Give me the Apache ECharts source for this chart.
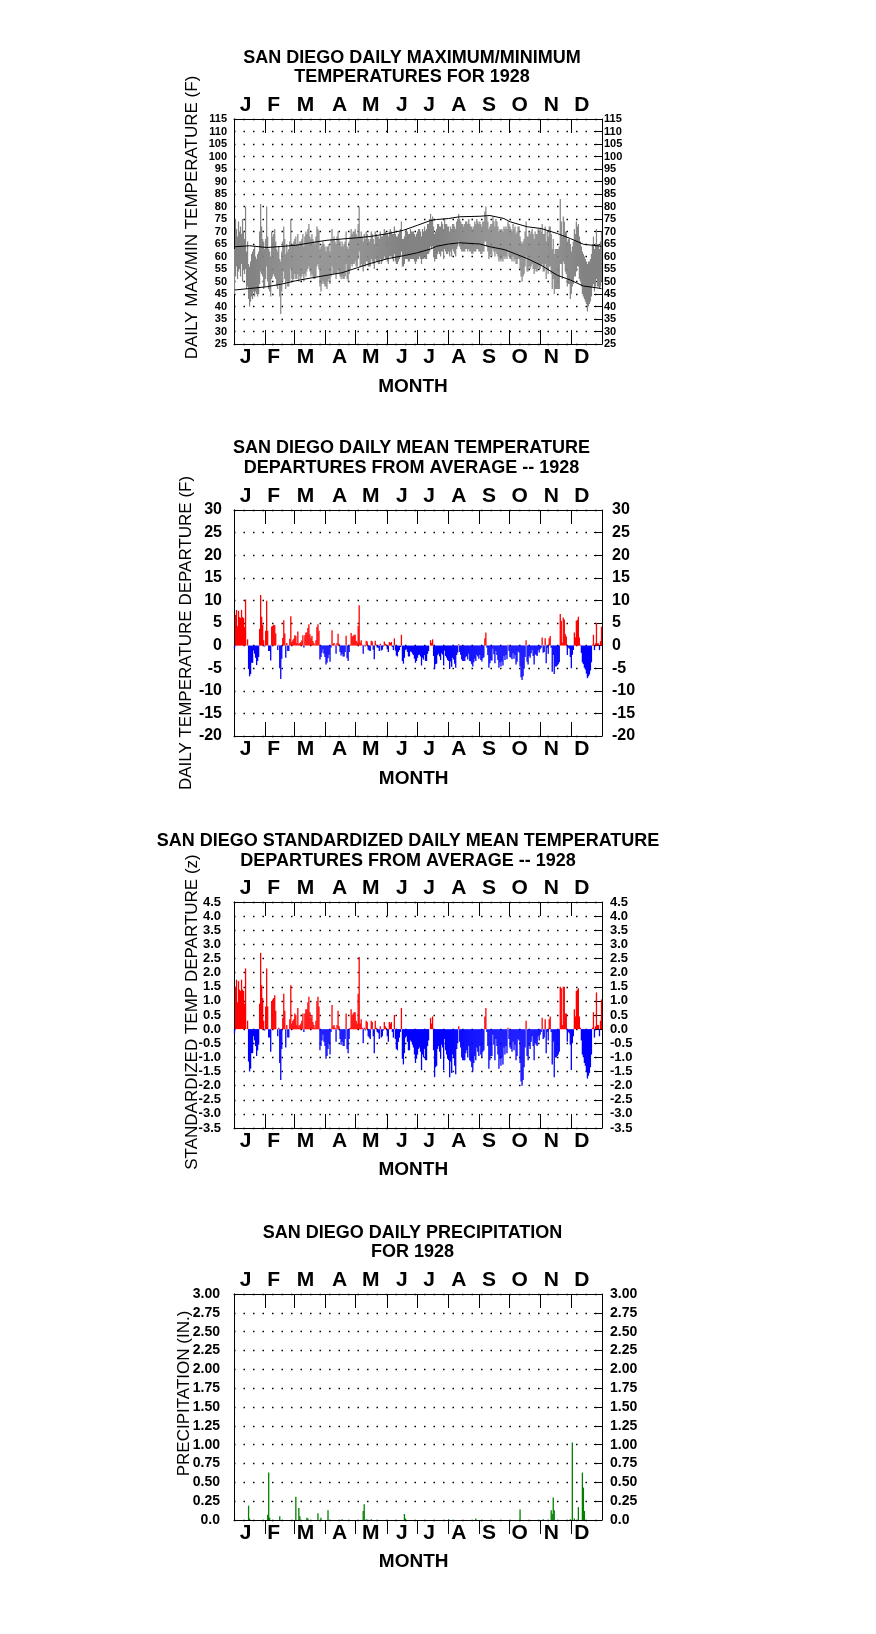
<!DOCTYPE html>
<html><head><meta charset="utf-8">
<script src="https://cdn.jsdelivr.net/npm/echarts@6/dist/echarts.min.js"></script>
<style>html,body{margin:0;padding:0;background:#fff}#c{width:876px;height:1634px}</style>
</head><body><div id="c"></div>
<script>
// ---------- DATA ----------
const monthLetters = ['J','F','M','A','M','J','J','A','S','O','N','D'];
const monthStarts = [31,60,91,121,152,182,213,244,274,305,335]; // day-of-year boundaries (1928, leap)

const tMax = [
63,75,71,68,74,70,72,69,75,70,67,80,62,66,57,56,58,61,62,63,64,60,59,61,62,70,81,72,67,66,63,
67,80,68,63,62,60,70,68,69,71,66,63,62,64,59,58,62,66,72,67,61,65,62,63,66,75,64,65,66,
67,68,65,69,65,66,66,67,69,64,68,70,69,71,73,68,67,69,67,66,65,68,72,71,70,63,64,65,66,65,64,
62,64,64,65,62,67,71,67,68,66,65,68,70,67,66,64,66,64,65,66,70,64,63,66,68,71,69,70,70,71,
69,68,73,80,68,70,68,66,69,67,70,69,67,66,67,70,69,67,65,70,69,68,68,67,70,68,68,69,71,70,69,
69,68,70,71,70,69,69,72,69,68,68,69,70,71,74,67,67,68,70,71,70,69,69,71,70,70,70,69,68,69,
70,71,71,70,68,71,70,72,70,71,73,73,75,77,75,76,72,69,70,71,73,73,72,72,74,73,71,75,73,73,72,
72,70,72,71,73,73,72,71,74,75,77,75,74,73,73,72,73,74,74,73,75,73,72,72,71,72,74,73,75,74,73,
74,73,72,74,74,78,80,76,74,71,72,73,73,76,74,72,75,74,72,70,71,70,71,70,72,71,72,71,74,73,
72,71,70,73,71,72,69,70,72,72,68,66,65,66,67,70,74,68,68,70,69,70,71,69,67,70,69,69,71,70,71,
70,73,69,69,72,66,70,68,72,72,69,63,67,61,63,63,63,63,64,83,74,68,76,74,70,70,66,67,67,65,
62,64,66,71,69,74,72,73,68,66,64,62,61,60,59,58,57,58,58,59,61,65,68,63,65,71,65,65,63,66,70
];
const tMin = [
45,52,56,51,54,55,52,57,50,55,53,55,47,48,43,40,42,44,43,46,44,46,45,44,45,49,54,53,52,47,48,
51,56,50,47,46,44,51,52,53,52,51,48,47,49,44,37,46,50,54,51,47,50,48,48,50,55,51,50,51,
53,51,51,53,50,52,51,52,53,50,53,52,54,55,56,54,52,53,52,51,51,52,56,57,55,48,46,49,50,49,48,
48,47,50,51,49,52,56,53,53,53,51,53,55,53,52,51,52,51,51,52,57,51,50,53,55,57,56,57,57,58,
56,56,59,62,56,57,56,54,57,56,58,58,56,56,56,59,58,57,55,59,58,58,57,57,59,57,58,59,60,59,59,
58,57,60,60,60,59,58,61,58,57,57,58,59,60,62,56,56,57,59,59,59,58,58,59,59,59,59,58,57,58,
59,59,60,59,57,59,59,60,59,59,61,61,62,64,63,64,60,58,59,59,61,62,61,60,62,62,59,63,62,61,61,
62,60,62,60,63,62,61,60,63,64,66,64,63,62,62,62,62,63,63,62,63,62,62,61,61,62,62,62,63,63,62,
62,61,61,62,62,66,66,64,62,59,60,61,60,63,62,60,62,61,60,58,59,58,59,58,60,59,60,59,62,60,
59,59,58,60,58,59,57,57,59,59,55,52,50,52,53,56,60,54,54,56,55,56,57,55,53,55,54,54,56,55,55,
56,57,54,54,57,51,55,53,56,56,53,47,51,45,47,47,47,47,47,57,57,51,58,57,54,53,48,49,49,43,
45,48,49,52,52,54,56,56,51,50,48,45,44,43,42,41,38,40,41,42,44,48,49,46,48,51,48,48,47,48,50
];
const normDays = [0,15,32,46,61,76,92,107,122,135,153,168,182,195,201,213,224,244,254,268,274,291,305,321,334,347,365];
const normMax  = [63.9,64.3,63.6,64.0,64.5,65.5,66.5,67.0,67.5,68.0,69.2,70.5,72.5,74.4,74.8,75.2,75.9,76.1,76.4,75.2,73.9,71.9,71.2,69.2,67.2,64.9,64.1];
const normMin  = [46.6,47.2,47.9,48.9,50.3,51.4,52.5,53.5,55.5,57.2,59.2,60.3,61.5,63.0,64.1,65.0,65.5,65.0,63.9,62.8,61.9,59.2,56.5,52.5,50.6,48.2,47.2];

const depF = [
-0.7,6.8,7.9,4.3,7.7,6.3,6.1,7.9,6.3,6.1,4.1,10.2,0,1.4,-5.2,-6.8,-6.3,-3.8,-3.8,-1.1,-1.8,-2.7,-4.3,-3.4,-2.5,3.7,11.2,6.4,4.6,1.2,-0.2,
3.3,9.9,3.3,-1.2,-1.2,-3.3,4.2,4.4,4.6,4.5,2.7,0,-1.0,0.2,-5.0,-7.4,-2.9,1.7,5.6,2.7,-2.7,0.6,-1.2,-1.2,1.5,6.5,0.8,1.2,1.5,
2.3,2.1,0.6,3.1,0.4,0.6,0.8,1.2,2.3,-0.4,2.3,2.9,2.9,3.9,4.7,2.5,1.6,2.1,1.0,0.6,0.2,1.2,4.1,4.7,3.3,-3.1,-2.5,-1.6,-0.8,-1.8,-2.5,
-4.2,-3.8,-2.8,-2.0,-3.6,-0.4,3.4,0.4,0.6,0.2,-1.8,0.6,2.6,0.4,-1.4,-2.2,-1.8,-2.4,-2.4,-1.4,2.2,-2.8,-3.4,-1.4,0.2,2.8,2.0,2.2,2.4,2.4,
1.1,0.7,4.4,8.9,0.7,1.2,0.2,-1.8,0.2,-0.2,1.1,0.9,-0.9,-1.1,-1.2,1.1,0.9,-0.9,-3.0,1.1,0.2,-0.4,-0.5,-1.2,0.4,-1.1,-0.9,-0.2,0.9,0.4,0.2,
-0.8,-1.4,0.8,0.6,0.8,-0.3,-1.0,1.6,-1.1,-2.2,-2.4,-1.4,-1.0,-0.3,2.4,-3.4,-4.0,-2.7,-1.0,-0.8,-1.4,-2.4,-2.4,-1.3,-1.4,-1.8,-2.1,-2.9,-3.8,-3.4,
-2.7,-2.1,-2.0,-2.4,-4.4,-2.7,-3.1,-2.1,-3.4,-3.4,-1.8,-1.2,0,1.2,0.6,1.4,-2.3,-5.2,-4.1,-4.0,-2.1,-1.8,-2.4,-3.2,-1.7,-2.0,-4.4,-1.1,-2.3,-2.7,-3.2,
-3.4,-5.2,-3.5,-4.7,-2.7,-3.1,-4.0,-4.9,-2.1,-1.5,0.3,-1.4,-2.0,-3.1,-3.4,-3.4,-3.4,-2.6,-2.3,-3.1,-1.8,-3.4,-3.5,-4.1,-4.6,-3.7,-2.9,-3.4,-2.0,-2.4,-2.9,
-2.1,-3.2,-3.5,-2.8,-2.6,1.6,2.9,-0.4,-2.1,-4.9,-3.9,-3.3,-3.3,-0.7,-1.9,-3.9,-1.2,-2.1,-3.2,-4.9,-3.7,-4.6,-3.5,-4.4,-2.3,-3.2,-2.1,-3.0,0.2,-1.2,
-2.5,-2.7,-3.0,-1.7,-2.9,-2.1,-4.2,-3.6,-1.3,-1.5,-4.6,-7.0,-7.6,-6.8,-5.1,-2.5,1.2,-3.6,-4.2,-2.3,-2.7,-1.7,-1.0,-2.3,-4.2,-1.9,-2.1,-2.3,-1.0,-1.5,-0.8,
-0.5,1.8,-1.6,-1.4,1.6,-3.9,-0.5,-1.8,1.6,2.1,-0.5,-5.8,-2.1,-6.3,-4.6,-4.6,-4.4,-4.1,-3.7,7.0,5.5,0.7,6.2,5.8,2.5,2.0,-2.1,-0.5,-0.7,-2.5,
-5.0,-2.0,-1.0,2.9,1.8,5.5,5.7,6.4,1.8,0.2,-1.6,-3.7,-4.1,-4.9,-5.3,-6.2,-7.2,-6.8,-6.4,-5.5,-3.7,0.2,2.4,-1.0,0.5,5.0,0.5,0.5,-1.0,1.0,4.2
];
const depZ = [
-0.15,1.5,1.75,0.95,1.7,1.4,1.35,1.75,1.4,1.35,0.9,2.15,0,0.3,-1.15,-1.5,-1.4,-0.85,-0.85,-0.25,-0.4,-0.6,-0.95,-0.75,-0.55,0.9,2.7,1.55,1.1,0.3,-0.05,
0.8,2.15,0.8,-0.3,-0.3,-0.8,1.0,1.05,1.1,1.2,0.65,0,-0.25,0.05,-1.2,-1.8,-0.7,0.4,1.25,0.65,-0.65,0.15,-0.3,-0.3,0.35,1.55,0.2,0.3,0.35,
0.55,0.5,0.15,0.75,0.1,0.15,0.2,0.3,0.55,-0.1,0.55,0.7,0.7,0.95,1.15,0.6,0.4,0.5,0.25,0.15,0.05,0.3,1.0,1.15,0.8,-0.75,-0.6,-0.4,-0.2,-0.45,-0.6,
-1.05,-0.95,-0.7,-0.5,-0.9,-0.1,0.85,0.1,0.15,0.05,-0.45,0.15,0.65,0.1,-0.35,-0.55,-0.45,-0.6,-0.6,-0.35,0.55,-0.7,-0.85,-0.35,0.05,0.7,0.5,0.55,0.6,0.6,
0.3,0.2,1.25,2.55,0.2,0.35,0.05,-0.5,0.05,-0.05,0.3,0.25,-0.25,-0.3,-0.35,0.3,0.25,-0.25,-0.85,0.3,0.05,-0.1,-0.15,-0.35,0.1,-0.3,-0.25,-0.05,0.25,0.1,0.05,
-0.25,-0.45,0.25,0.2,0.25,-0.1,-0.3,0.5,-0.35,-0.7,-0.75,-0.45,-0.3,-0.1,0.75,-1.05,-1.25,-0.85,-0.3,-0.25,-0.45,-0.75,-0.75,-0.4,-0.45,-0.55,-0.65,-0.9,-1.2,-1.05,
-0.9,-0.7,-0.65,-0.8,-1.45,-0.9,-1.0,-0.7,-1.1,-1.1,-0.6,-0.4,0,0.4,0.2,0.45,-0.75,-1.7,-1.35,-1.3,-0.7,-0.6,-0.8,-1.05,-0.55,-0.65,-1.45,-0.35,-0.75,-0.9,-1.05,
-1.1,-1.7,-1.15,-1.55,-0.9,-1.0,-1.3,-1.6,-0.7,-0.5,0.1,-0.45,-0.65,-1.0,-1.1,-1.1,-1.1,-0.85,-0.75,-1.0,-0.6,-1.1,-1.15,-1.35,-1.5,-1.2,-0.95,-1.1,-0.65,-0.8,-0.95,
-0.6,-0.9,-1.0,-0.8,-0.75,0.45,0.75,-0.1,-0.6,-1.4,-1.1,-0.95,-0.95,-0.2,-0.55,-1.1,-0.35,-0.6,-0.9,-1.4,-1.05,-1.3,-1.0,-1.25,-0.65,-0.9,-0.6,-0.85,0.05,-0.35,
-0.65,-0.7,-0.8,-0.45,-0.75,-0.55,-1.1,-0.95,-0.35,-0.4,-1.2,-1.85,-2.0,-1.8,-1.35,-0.65,0.3,-0.95,-1.1,-0.6,-0.7,-0.45,-0.25,-0.6,-1.1,-0.5,-0.55,-0.6,-0.25,-0.4,-0.2,
-0.1,0.4,-0.35,-0.3,0.35,-0.85,-0.1,-0.4,0.35,0.45,-0.1,-1.25,-0.45,-1.7,-1.0,-1.0,-0.95,-0.9,-0.8,1.5,1.45,0.15,1.5,1.5,0.55,0.55,-0.45,-0.1,-0.15,-0.55,
-1.45,-0.5,-0.25,0.7,0.45,1.35,1.4,1.45,0.45,0.05,-0.4,-0.9,-1.0,-1.2,-1.3,-1.5,-1.75,-1.65,-1.55,-1.35,-0.9,0.05,0.6,-0.3,0.1,1.3,0.15,0.15,-0.25,0.3,1.05
];
const precipDays = [14,15,33,34,35,45,61,64,65,72,73,83,86,93,107,128,129,131,136,169,170,213,240,284,307,315,316,317,318,334,336,338,342,346,347,348];
const precipIn   = [0.19,0.02,0.07,0.63,0.03,0.05,0.31,0.16,0.05,0.03,0.02,0.09,0.03,0.13,0.01,0.12,0.21,0.01,0.01,0.08,0.02,0.01,0.02,0.14,0.01,0.13,0.08,0.30,0.13,0.01,1.03,0.02,0.17,0.63,0.43,0.12];

// ---------- LAYOUT ----------
const FONT = '"Liberation Sans", Arial, sans-serif';
const labelDays = [11.6,39.5,71,105,136,167,194,223.5,253.7,284,315.5,346];
const grids = [
  {top:119, height:225},
  {top:510, height:226},
  {top:902, height:226},
  {top:1294, height:226}
];
const yCfg = [
  {min:25, max:115, interval:5, fs:11, lm:7, rm:2, fmt: v => String(v)},
  {min:-20, max:30, interval:5, fs:16, lm:12, rm:10, fmt: v => String(v)},
  {min:-3.5, max:4.5, interval:0.5, fs:13, lm:13, rm:8, fmt: v => v.toFixed(1)},
  {min:0, max:3, interval:0.25, fs:14, lm:14, rm:8, fmt: v => v === 0 ? '0.0' : v.toFixed(2)}
];
function monthFmt(v){
  let k=0,b=1e9; labelDays.forEach((p,i)=>{const d=Math.abs(p-v); if(d<b){b=d;k=i;}});
  return monthLetters[k];
}
const black = '#000';
const xAxes = [], yAxes = [];
grids.forEach((g,i)=>{
  ['bottom','top'].forEach(pos=>{
    xAxes.push({
      type:'value', gridIndex:i, min:0, max:366, position:pos,
      axisLine:{show:true,onZero:false,lineStyle:{color:black,width:1}},
      axisTick:{show:true, inside: !(i===3 && pos==='bottom'), length:14, customValues:monthStarts, lineStyle:{color:black,width:1}},
      axisLabel:{show:true, customValues:labelDays, formatter:monthFmt, margin: 3,
        fontSize:21, fontWeight:'bold', color:black, fontFamily:FONT},
      splitLine:{show:false}
    });
  });
  const c = yCfg[i];
  yAxes.push({
    type:'value', gridIndex:i, min:c.min, max:c.max, interval:c.interval, position:'left',
    axisLine:{show:true,onZero:false,lineStyle:{color:black,width:1}},
    axisTick:{show:false},
    axisLabel:{margin:c.lm, fontSize:c.fs, fontWeight:'bold', color:black, fontFamily:FONT, formatter:c.fmt},
    splitLine:{show:true, lineStyle:{color:black, width:1.4, type:[1.5,8], dashOffset:0}}
  });
  yAxes.push({
    type:'value', gridIndex:i, min:c.min, max:c.max, interval:c.interval, position:'right',
    axisLine:{show:true,onZero:false,lineStyle:{color:black,width:1}},
    axisTick:{show:true, inside:true, length:8, lineStyle:{color:black,width:1}},
    axisLabel:{margin:c.rm, fontSize:c.fs, fontWeight:'bold', color:black, fontFamily:FONT, formatter:c.fmt},
    splitLine:{show:false}
  });
});

const days = tMax.map((_,d)=>d);
const series = [
  {
    type:'custom', xAxisIndex:0, yAxisIndex:0, silent:true, clip:true,
    data: days.map(d=>[d+0.5, tMin[d], tMax[d]]),
    encode:{x:0, y:[1,2]},
    renderItem:(params, api)=>{
      const a = api.coord([api.value(0)-0.6, api.value(2)]);
      const b = api.coord([api.value(0)+0.6, api.value(1)]);
      return {type:'rect', shape:{x:a[0], y:a[1], width:b[0]-a[0], height:b[1]-a[1]}, style:{fill:'#838383'}};
    }
  },
  {type:'line', xAxisIndex:0, yAxisIndex:0, silent:true, showSymbol:false, symbol:'none',
   data: normDays.map((d,i)=>[d+0.5, normMax[i]]), lineStyle:{color:black,width:1}},
  {type:'line', xAxisIndex:0, yAxisIndex:0, silent:true, showSymbol:false, symbol:'none',
   data: normDays.map((d,i)=>[d+0.5, normMin[i]]), lineStyle:{color:black,width:1}},
  {type:'bar', xAxisIndex:2, yAxisIndex:2, silent:true, barWidth:1.3,
   data: depF.map((v,d)=>[d+0.5, v]),
   itemStyle:{color: p => p.value[1] >= 0 ? '#ff0000' : '#0000ff'}},
  {type:'bar', xAxisIndex:4, yAxisIndex:4, silent:true, barWidth:1.3,
   data: depZ.map((v,d)=>[d+0.5, v]),
   itemStyle:{color: p => p.value[1] >= 0 ? '#ff0000' : '#0000ff'}},
  {type:'bar', xAxisIndex:6, yAxisIndex:6, silent:true, barWidth:1.3,
   data: precipDays.map((d,i)=>[d+0.5, precipIn[i]]),
   itemStyle:{color:'#008000'}}
];

function txt(x,y,text,size,weight,rot,lh){
  return {type:'text', x:x, y:y, rotation:rot||0, silent:true,
    style:{text:text, x:0, y:0, fill:black, font: weight+' '+size+'px '+FONT,
      textAlign:'center', textVerticalAlign:'middle', lineHeight: lh||size}};
}
const R = Math.PI/2;
const graphic = [
  txt(412, 67.2, 'SAN DIEGO DAILY MAXIMUM/MINIMUM\nTEMPERATURES FOR 1928', 18, 'bold', 0, 19),
  txt(411.5, 458.3, 'SAN DIEGO DAILY MEAN TEMPERATURE\nDEPARTURES FROM AVERAGE -- 1928', 18, 'bold', 0, 20),
  txt(408, 850.7, 'SAN DIEGO STANDARDIZED DAILY MEAN TEMPERATURE\nDEPARTURES FROM AVERAGE -- 1928', 18, 'bold', 0, 20),
  txt(412.5, 1242.2, 'SAN DIEGO DAILY PRECIPITATION\nFOR 1928', 18, 'bold', 0, 19),
  txt(413, 386.7, 'MONTH', 19, 'bold'),
  txt(413.7, 778.3, 'MONTH', 19, 'bold'),
  txt(413.3, 1170, 'MONTH', 19, 'bold'),
  txt(413.7, 1561.7, 'MONTH', 19, 'bold'),
  txt(192.5, 217.5, 'DAILY MAX/MIN TEMPERATURE (F)', 17, 'normal', R),
  txt(186, 633, 'DAILY TEMPERATURE DEPARTURE (F)', 17, 'normal', R),
  txt(192, 1012, 'STANDARDIZED TEMP DEPARTURE (z)', 17, 'normal', R),
  txt(184, 1393.5, 'PRECIPITATION (IN.)', 17, 'normal', R)
];

const chart = echarts.init(document.getElementById('c'), null, {renderer:'canvas'});
chart.setOption({
  animation:false,
  backgroundColor:'#fff',
  grid: grids.map(g=>({left:234, width:368, top:g.top, height:g.height, containLabel:false})),
  xAxis: xAxes, yAxis: yAxes, series: series, graphic: graphic
});
</script></body></html>
